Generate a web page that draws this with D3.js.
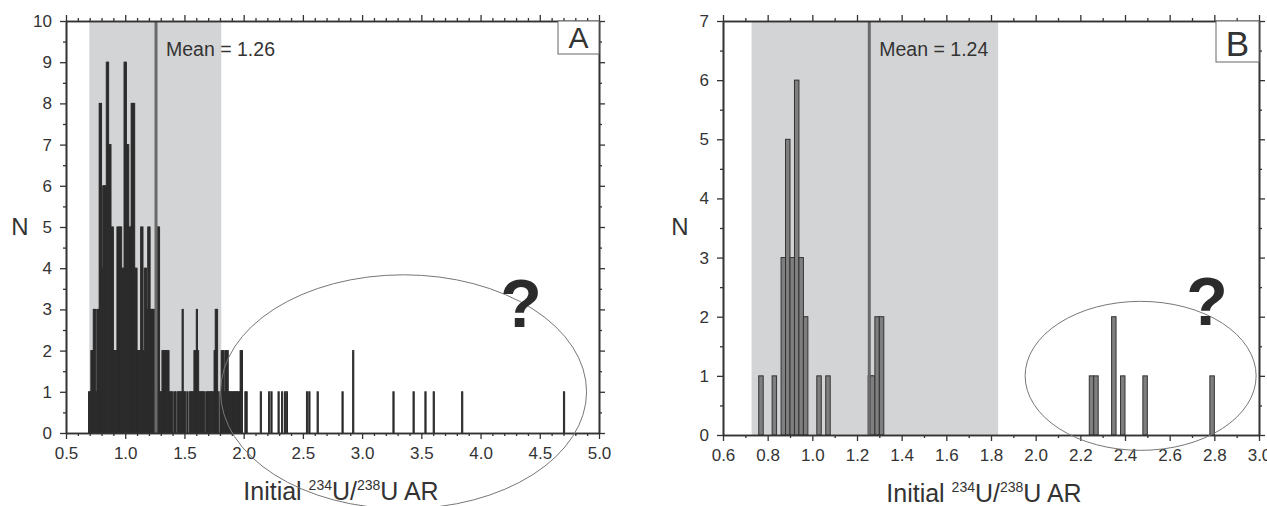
<!DOCTYPE html>
<html>
<head>
<meta charset="utf-8">
<script src="https://cdn.jsdelivr.net/npm/d3@7"></script>
<style>
  body { margin: 0; background: #fff; }
  svg { display: block; font-family: "Liberation Sans", Arial, sans-serif; }
</style>
</head>
<body>
<svg width="1267" height="506"></svg>
<script>
// panel A: histogram, bin width 0.01 (left edge of each bin)
const binStartA = [0.69, 0.70, 0.71, 0.72, 0.73, 0.74, 0.75, 0.76, 0.77, 0.78, 0.79, 0.80, 0.81, 0.82, 0.83,
  0.84, 0.85, 0.86, 0.87, 0.88, 0.89, 0.90, 0.91, 0.92, 0.93, 0.94, 0.95, 0.96, 0.97, 0.98, 0.99,
  1.00, 1.01, 1.02, 1.03, 1.04, 1.05, 1.06, 1.07, 1.08, 1.09, 1.10, 1.11, 1.12, 1.13, 1.14, 1.15,
  1.16, 1.17, 1.18, 1.19, 1.20, 1.21, 1.22, 1.23, 1.24, 1.25, 1.26, 1.27, 1.28, 1.29, 1.30, 1.31,
  1.32, 1.33, 1.34, 1.35, 1.36, 1.37, 1.38, 1.39, 1.41, 1.42, 1.44, 1.45, 1.46, 1.47, 1.48, 1.49,
  1.50, 1.52, 1.54, 1.55, 1.56, 1.57, 1.58, 1.59, 1.60, 1.61, 1.62, 1.63, 1.64, 1.65, 1.66, 1.68,
  1.69, 1.70, 1.71, 1.72, 1.73, 1.74, 1.75, 1.76, 1.77, 1.78, 1.80, 1.81, 1.82, 1.83, 1.84, 1.85,
  1.86, 1.87, 1.88, 1.89, 1.90, 1.91, 1.92, 1.93, 1.94, 1.95, 1.96, 1.97, 1.98, 2.01, 2.02,
  2.14, 2.21, 2.23, 2.29, 2.32, 2.345, 2.36, 2.53, 2.55, 2.62, 2.83, 2.92, 3.26, 3.43, 3.53, 3.60,
  3.84, 4.70];
const countA = [1, 1, 2, 2, 3, 3, 1, 3, 3, 8, 8, 4, 6, 6, 6,
  9, 9, 7, 7, 5, 5, 2, 2, 2, 5, 5, 5, 5, 4, 4, 9,
  9, 7, 7, 5, 5, 8, 8, 8, 4, 4, 2, 2, 2, 5, 5, 2,
  4, 4, 3, 5, 5, 3, 3, 3, 3, 3, 5, 5, 5, 1, 1, 2,
  2, 2, 2, 2, 2, 1, 1, 1, 1, 1, 1, 1, 1, 1, 3, 1,
  1, 1, 1, 1, 1, 1, 2, 2, 3, 2, 1, 1, 1, 1, 1, 1,
  1, 1, 1, 1, 1, 1, 2, 3, 3, 1, 1, 2, 2, 1, 2, 2,
  2, 1, 1, 1, 1, 1, 1, 1, 1, 1, 1, 2, 2, 1, 1,
  1, 1, 1, 1, 1, 1, 1, 1, 1, 1, 1, 2, 1, 1, 1, 1,
  1, 1];
const binWidthA = 0.01;

// panel B: histogram, bin width 0.02
const binStartB = [0.76, 0.82, 0.86, 0.88, 0.90, 0.92, 0.94, 0.96, 1.02, 1.06, 1.25, 1.26, 1.28, 1.30,
  2.24, 2.26, 2.34, 2.38, 2.48, 2.78];
const countB = [1, 1, 3, 5, 3, 6, 3, 2, 1, 1, 1, 1, 2, 2,
  1, 1, 2, 1, 1, 1];
const binWidthB = 0.02;

const bandA = [0.697, 1.811];
const bandB = [0.728, 1.832];
const meanA = 1.26;
const meanB = 1.24;
const meanLineB = 1.255;

const xTicksA = [0.5, 1.0, 1.5, 2.0, 2.5, 3.0, 3.5, 4.0, 4.5, 5.0];
const xMinorA = [0.6, 0.7, 0.8, 0.9, 1.1, 1.2, 1.3, 1.4, 1.6, 1.7, 1.8, 1.9, 2.1, 2.2, 2.3, 2.4,
  2.6, 2.7, 2.8, 2.9, 3.1, 3.2, 3.3, 3.4, 3.6, 3.7, 3.8, 3.9, 4.1, 4.2, 4.3, 4.4, 4.6, 4.7, 4.8, 4.9];
const xTicksB = [0.6, 0.8, 1.0, 1.2, 1.4, 1.6, 1.8, 2.0, 2.2, 2.4, 2.6, 2.8, 3.0];
const xMinorB = [0.7, 0.9, 1.1, 1.3, 1.5, 1.7, 1.9, 2.1, 2.3, 2.5, 2.7, 2.9];
const yTicksA = [0, 1, 2, 3, 4, 5, 6, 7, 8, 9, 10];
const yMinorA = [0.5, 1.5, 2.5, 3.5, 4.5, 5.5, 6.5, 7.5, 8.5, 9.5];
const yTicksB = [0, 1, 2, 3, 4, 5, 6, 7];
const yMinorB = [0.5, 1.5, 2.5, 3.5, 4.5, 5.5, 6.5];

const svg = d3.select('svg');
const axisColor = '#333';
const fontFamily = '"Liberation Sans", Arial, sans-serif';

function drawPanel(opt) {
  var g = svg.append('g');
  var x = d3.scaleLinear().domain(opt.xDomain).range([opt.left, opt.right]);
  var y = d3.scaleLinear().domain(opt.yDomain).range([opt.bottom, opt.top]);

  // grey band
  g.append('rect')
    .attr('x', x(opt.band[0]))
    .attr('y', opt.top)
    .attr('width', x(opt.band[1]) - x(opt.band[0]))
    .attr('height', opt.bottom - opt.top)
    .attr('fill', '#d3d4d6');

  // bars
  var data = opt.starts.map(function (s, i) { return { x0: s, n: opt.counts[i] }; });
  g.selectAll('rect.bar')
    .data(data)
    .enter()
    .append('rect')
    .attr('class', 'bar')
    .attr('x', function (d) { return x(d.x0); })
    .attr('y', function (d) { return y(d.n); })
    .attr('width', function (d) { return x(d.x0 + opt.binWidth) - x(d.x0); })
    .attr('height', function (d) { return y(0) - y(d.n); })
    .attr('fill', opt.barFill)
    .attr('stroke', opt.barStroke)
    .attr('stroke-width', opt.barStrokeWidth);

  // mean line
  g.append('line')
    .attr('x1', x(opt.meanLine)).attr('x2', x(opt.meanLine))
    .attr('y1', opt.top).attr('y2', opt.bottom)
    .attr('stroke', '#6a6a6a')
    .attr('stroke-width', 3);

  g.append('text')
    .attr('x', x(opt.meanLine) + 10)
    .attr('y', 56)
    .style('font-size', '19.5px')
    .attr('fill', '#333')
    .text('Mean = ' + opt.mean.toFixed(2));

  // axes: major + minor ticks on all four sides, ticks pointing out
  var fmtX = d3.format('.1f');
  var axes = [
    [d3.axisBottom(x).tickValues(opt.xTicks).tickFormat(fmtX).tickSize(6).tickPadding(8), 'translate(0,' + opt.bottom + ')'],
    [d3.axisBottom(x).tickValues(opt.xMinor).tickFormat('').tickSize(3), 'translate(0,' + opt.bottom + ')'],
    [d3.axisTop(x).tickValues(opt.xTicks).tickFormat('').tickSize(6), 'translate(0,' + opt.top + ')'],
    [d3.axisTop(x).tickValues(opt.xMinor).tickFormat('').tickSize(3), 'translate(0,' + opt.top + ')'],
    [d3.axisLeft(y).tickValues(opt.yTicks).tickFormat(d3.format('d')).tickSize(6).tickPadding(8), 'translate(' + opt.left + ',0)'],
    [d3.axisLeft(y).tickValues(opt.yMinor).tickFormat('').tickSize(3), 'translate(' + opt.left + ',0)'],
    [d3.axisRight(y).tickValues(opt.yTicks).tickFormat('').tickSize(6), 'translate(' + opt.right + ',0)'],
    [d3.axisRight(y).tickValues(opt.yMinor).tickFormat('').tickSize(3), 'translate(' + opt.right + ',0)']
  ];
  axes.forEach(function (a) {
    var ag = g.append('g').attr('transform', a[1]).call(a[0].tickSizeOuter(0));
    ag.selectAll('path').attr('stroke', axisColor).attr('stroke-width', 1.6);
    ag.selectAll('line').attr('stroke', axisColor).attr('stroke-width', 1.3);
    ag.selectAll('text')
      .style('font-family', fontFamily)
      .style('font-size', '17px')
      .attr('fill', '#333');
  });

  // y label
  g.append('text')
    .attr('x', opt.nX)
    .attr('y', 235)
    .attr('text-anchor', 'middle')
    .style('font-size', '24px')
    .attr('fill', '#333')
    .text('N');

  // x label with superscripts
  var xl = g.append('text')
    .attr('x', opt.xLabelX)
    .attr('y', opt.xLabelY)
    .attr('text-anchor', 'middle')
    .style('font-size', '25px')
    .attr('fill', '#333');
  xl.append('tspan').text('Initial ');
  xl.append('tspan').style('font-size', '14px').attr('dy', -10).text('234');
  xl.append('tspan').attr('dy', 10).text('U/');
  xl.append('tspan').style('font-size', '14px').attr('dy', -10).text('238');
  xl.append('tspan').attr('dy', 10).text('U AR');

  // ellipse
  g.append('ellipse')
    .attr('cx', x(opt.ell[0]))
    .attr('cy', y(opt.ell[1]))
    .attr('rx', opt.ell[2])
    .attr('ry', opt.ell[3])
    .attr('fill', 'none')
    .attr('stroke', '#777')
    .attr('stroke-width', 1);

  // question mark
  g.append('text')
    .attr('x', opt.qPos[0])
    .attr('y', opt.qPos[1])
    .attr('text-anchor', 'middle')
    .style('font-size', '68px')
    .style('font-weight', 'bold')
    .attr('fill', '#2b2b2b')
    .text('?');

  // panel letter box
  g.append('rect')
    .attr('x', opt.right - opt.box[0])
    .attr('y', opt.top)
    .attr('width', opt.box[0])
    .attr('height', opt.box[1])
    .attr('fill', '#fff')
    .attr('stroke', '#666')
    .attr('stroke-width', 1);
  g.append('text')
    .attr('x', opt.right - opt.box[0] / 2)
    .attr('y', opt.top + opt.box[1] - 6)
    .attr('text-anchor', 'middle')
    .style('font-size', opt.box[2] + 'px')
    .attr('fill', '#333')
    .text(opt.letter);
}

drawPanel({
  xDomain: [0.5, 5.0], yDomain: [0, 10],
  left: 66, right: 599, top: 21, bottom: 433,
  band: bandA, starts: binStartA, counts: countA, binWidth: binWidthA,
  barFill: '#2b2b2b', barStroke: '#2b2b2b', barStrokeWidth: 1,
  meanLine: meanA, mean: meanA,
  xTicks: xTicksA, xMinor: xMinorA,
  yTicks: yTicksA, yMinor: yMinorA,
  nX: 20, xLabelX: 341, xLabelY: 500,
  ell: [3.35, 1.0, 183, 117],
  qPos: [521, 327],
  box: [41, 33, 30], letter: 'A'
});

drawPanel({
  xDomain: [0.6, 3.0], yDomain: [0, 7],
  left: 723, right: 1259, top: 21, bottom: 435,
  band: bandB, starts: binStartB, counts: countB, binWidth: binWidthB,
  barFill: '#7f7f7f', barStroke: '#333', barStrokeWidth: 1,
  meanLine: meanLineB, mean: meanB,
  xTicks: xTicksB, xMinor: xMinorB,
  yTicks: yTicksB, yMinor: yMinorB,
  nX: 680, xLabelX: 984, xLabelY: 502,
  ell: [2.47, 1, 115.5, 74.5],
  qPos: [1207, 325],
  box: [43, 41, 35], letter: 'B'
});
</script>
</body>
</html>
